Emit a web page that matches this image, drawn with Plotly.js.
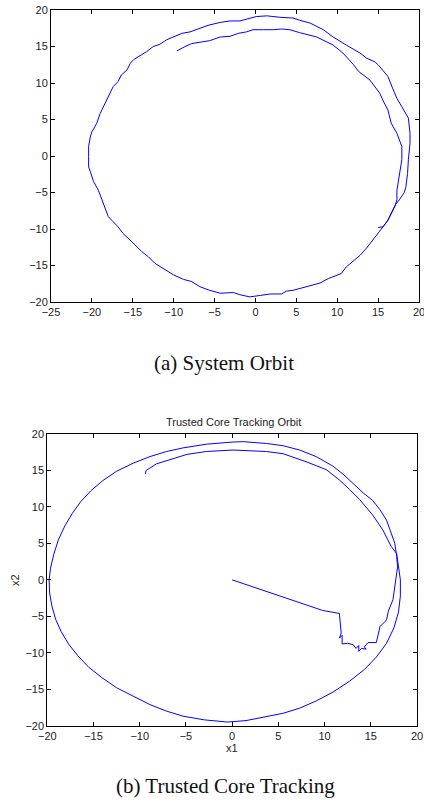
<!DOCTYPE html>
<html>
<head>
<meta charset="utf-8">
<script src="https://cdn.plot.ly/plotly-3.0.1.min.js"></script>
<style>html,body{margin:0;padding:0;background:#fff;}#chart{width:424px;height:802px;}</style>
</head>
<body>
<div id="chart"></div>
<script>
// (a) System Orbit
const sysX = [15.0,15.6,16.2,16.8,17.1,17.6,18.2,18.4,18.6,18.7,18.9,18.9,18.7,17.9,17.3,16.8,16.4,16.2,15.0,14.6,13.6,12.8,11.1,9.5,8.3,6.7,5.4,4.6,3.0,1.4,0.1,-0.9,-1.9,-3.1,-4.3,-5.8,-6.8,-8.0,-9.0,-10.0,-10.9,-11.7,-12.5,-13.3,-14.1,-14.9,-15.3,-15.7,-16.4,-16.8,-17.4,-18.0,-18.4,-19.0,-19.4,-20.0,-20.2,-20.4,-20.4,-20.4,-20.2,-19.8,-19.2,-18.8,-18.4,-18.0,-17.4,-16.8,-16.2,-15.5,-14.7,-13.9,-13.1,-12.3,-11.3,-10.0,-8.8,-7.8,-6.8,-5.6,-4.3,-3.5,-2.7,-1.9,-0.7,0.6,1.8,3.2,3.8,4.6,6.3,7.9,8.9,9.9,10.5,11.1,12.0,12.8,13.6,14.4,15.0,15.6,16.2,16.8,17.05,17.3,17.3,17.5,17.7,17.9,17.9,17.3,16.6,16.4,16.2,15.6,15.2,14.0,13.4,12.6,12.0,11.3,10.7,9.5,8.3,7.5,5.4,4.2,3.2,2.2,1.0,-0.3,-1.1,-2.1,-3.1,-4.3,-5.6,-6.8,-7.8,-8.6,-9.6];
const sysY = [-9.8,-9.7,-8.8,-7.5,-6.7,-6.0,-5.0,-4.2,-2.4,-0.5,1.7,3.1,5.2,6.75,7.9,9.2,10.4,10.9,12.5,12.9,13.4,14.1,15.2,16.3,17.3,18.2,18.6,18.9,19.0,19.2,19.1,18.8,18.5,18.5,18.3,17.9,17.5,17.0,16.8,16.3,15.9,15.3,15.0,14.3,13.7,13.2,12.7,11.8,11.1,10.2,9.5,8.1,7.2,5.8,4.5,3.3,2.6,1.3,-0.1,-1.5,-2.1,-3.5,-4.7,-6.0,-7.2,-8.3,-9.0,-9.7,-10.6,-11.3,-12.2,-13.1,-13.8,-14.7,-15.4,-16.3,-16.9,-17.2,-17.9,-18.4,-18.8,-18.8,-18.7,-19.0,-19.3,-19.1,-18.9,-18.9,-18.5,-18.4,-17.9,-17.4,-16.8,-16.3,-16.1,-15.2,-14.3,-13.6,-12.6,-11.5,-10.6,-9.7,-8.8,-7.4,-6.9,-6.0,-4.7,-3.3,-1.5,-0.5,1.3,3.1,4.5,5.5,6.3,7.6,8.6,10.4,10.9,11.6,12.5,13.4,14.1,15.2,15.8,16.3,16.9,17.3,17.4,17.3,17.3,17.3,17.0,16.8,16.4,16.3,15.8,15.6,15.4,15.0,14.4];

// (b) Trusted Core Tracking Orbit
const trackX = [0,9.8,11.6,11.8,11.6,11.9,11.9,12.5,13.1,13.4,13.7,13.7,14.0,14.5,14.3,14.7,15.6,15.8,16.0,16.7,16.9,17.4,17.8,17.9,17.8,17.6,17.1,16.7,16.0,15.2,14.2,13.1,12.0,10.9,9.1,7.3,5.5,3.7,1.2,0.1,-2.8,-5.3,-7.1,-8.9,-10.7,-12.5,-14.0,-15.3,-16.4,-17.3,-18.1,-18.8,-19.3,-19.65,-19.8,-19.75,-19.5,-19.1,-18.5,-17.7,-16.7,-15.5,-14.1,-12.5,-10.7,-8.9,-7.1,-5.3,-3.0,-0.5,1.5,3.7,5.5,7.3,9.1,10.9,12.7,14.3,15.6,16.7,17.5,18.0,18.2,18.2,18.0,17.8,17.2,16.3,15.2,13.8,12.7,11.6,10.2,8.0,5.5,3.7,0.1,-2.8,-4.9,-7.1,-8.2,-9.3,-9.4];
const trackY = [0,-4.2,-4.6,-7.3,-8.0,-7.6,-8.8,-8.7,-8.9,-9.4,-9.0,-9.8,-9.4,-9.5,-9.2,-8.6,-8.6,-7.3,-6.4,-5.5,-4.3,-2.7,0.45,1.8,3.2,5.0,6.8,8.2,9.6,10.9,11.9,13.2,14.5,15.6,16.9,17.8,18.4,18.7,18.95,18.9,18.6,18.1,17.6,16.9,16.0,14.9,13.6,12.2,10.7,9.1,7.4,5.5,3.5,1.6,0,-1.8,-3.6,-5.4,-7.1,-8.8,-10.4,-12.0,-13.4,-14.8,-16.0,-17.1,-18.0,-18.7,-19.2,-19.5,-19.3,-18.8,-18.3,-17.6,-16.6,-15.4,-13.9,-12.3,-10.6,-8.7,-6.6,-4.4,-2.2,0.0,2.2,3.6,4.6,6.85,8.9,11.0,12.4,13.7,15.1,16.2,17.3,17.6,17.8,17.6,17.2,16.4,15.9,15.0,14.5];

const xTicksA = [-25,-20,-15,-10,-5,0,5,10,15,20];
const xTicksB = [-20,-15,-10,-5,0,5,10,15,20];
const yTicks = [-20,-15,-10,-5,0,5,10,15,20];

const lineStyle = {color: 'rgb(0,0,255)', width: 1};
const tickFont = {family: 'Liberation Sans, Arial, sans-serif', size: 11, color: '#222'};

function axis(extra) {
  return Object.assign({
    showline: true, linecolor: '#000', linewidth: 1, mirror: 'ticks',
    ticks: 'inside', ticklen: 4, tickcolor: '#000', tickwidth: 1,
    showgrid: false, zeroline: false, tickfont: tickFont, automargin: false,
    ticklabeloverflow: 'allow'
  }, extra);
}

const W = 424, H = 802;
const data = [
  {x: sysX, y: sysY, type: 'scatter', mode: 'lines', line: lineStyle, xaxis: 'x', yaxis: 'y', hoverinfo: 'skip'},
  {x: trackX, y: trackY, type: 'scatter', mode: 'lines', line: lineStyle, xaxis: 'x2', yaxis: 'y2', hoverinfo: 'skip'}
];

const layout = {
  width: W, height: H,
  margin: {l: 0, r: 0, t: 0, b: 0},
  paper_bgcolor: '#fff', plot_bgcolor: '#fff',
  showlegend: false,
  xaxis: axis({domain: [51/W, 419/W], range: [-25, 20], tickvals: xTicksA, anchor: 'y'}),
  yaxis: axis({domain: [1 - 302/H, 1 - 10/H], range: [-20, 20], tickvals: yTicks, anchor: 'x'}),
  xaxis2: axis({domain: [47.3/W, 417/W], range: [-20, 20], tickvals: xTicksB, anchor: 'y2'}),
  yaxis2: axis({domain: [1 - 725.7/H, 1 - 434/H], range: [-20, 20], tickvals: yTicks, anchor: 'x2'}),
  annotations: [
    {text: 'Trusted Core Tracking Orbit', xref: 'paper', yref: 'paper', x: 233/W, y: 1 - 422/H,
     xanchor: 'center', yanchor: 'middle', showarrow: false,
     font: {family: 'Liberation Sans, Arial, sans-serif', size: 11, color: '#222'}},
    {text: 'x1', xref: 'paper', yref: 'paper', x: 232/W, y: 1 - 748/H,
     xanchor: 'center', yanchor: 'middle', showarrow: false,
     font: {family: 'Liberation Sans, Arial, sans-serif', size: 11, color: '#222'}},
    {text: 'x2', xref: 'paper', yref: 'paper', x: 15/W, y: 1 - 580/H, textangle: -90,
     xanchor: 'center', yanchor: 'middle', showarrow: false,
     font: {family: 'Liberation Sans, Arial, sans-serif', size: 11, color: '#222'}},
    {text: '(a) System Orbit', xref: 'paper', yref: 'paper', x: 224/W, y: 1 - 363/H,
     xanchor: 'center', yanchor: 'middle', showarrow: false,
     font: {family: 'Liberation Serif, Times New Roman, serif', size: 21, color: '#111'}},
    {text: '(b) Trusted Core Tracking', xref: 'paper', yref: 'paper', x: 225/W, y: 1 - 786/H,
     xanchor: 'center', yanchor: 'middle', showarrow: false,
     font: {family: 'Liberation Serif, Times New Roman, serif', size: 21, color: '#111'}}
  ]
};

Plotly.newPlot('chart', data, layout, {displayModeBar: false, staticPlot: true});
</script>
</body>
</html>
